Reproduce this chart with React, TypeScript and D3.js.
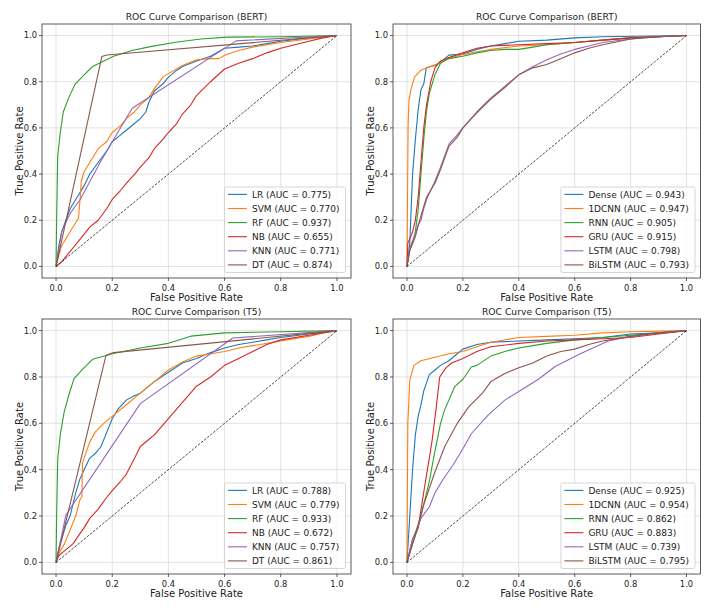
import * as d3 from 'd3';
import React, { useEffect, useRef } from 'react';

type Pt = [number, number];

const mlNames = ['LR', 'SVM', 'RF', 'NB', 'KNN', 'DT'];
const dlNames = ['Dense', '1DCNN', 'RNN', 'GRU', 'LSTM', 'BiLSTM'];

const bertMlAuc = [0.775, 0.770, 0.937, 0.655, 0.771, 0.874];
const bertDlAuc = [0.943, 0.947, 0.905, 0.915, 0.798, 0.793];
const t5MlAuc = [0.788, 0.779, 0.933, 0.672, 0.757, 0.861];
const t5DlAuc = [0.925, 0.954, 0.862, 0.883, 0.739, 0.795];

const tickVals = [0, 0.2, 0.4, 0.6, 0.8, 1.0];
const colors = ['#1f77b4', '#ff7f0e', '#2ca02c', '#d62728', '#9467bd', '#8c564b'];

// BERT, classic models
const bertLR: Pt[] = [[0, 0], [0.01, 0.09], [0.02, 0.15], [0.035, 0.2], [0.05, 0.25], [0.07, 0.29], [0.1, 0.35], [0.12, 0.4], [0.15, 0.45], [0.18, 0.5], [0.2, 0.54], [0.22, 0.56], [0.25, 0.59], [0.28, 0.62], [0.3, 0.64], [0.32, 0.67], [0.33, 0.71], [0.35, 0.76], [0.38, 0.79], [0.4, 0.82], [0.43, 0.85], [0.45, 0.866], [0.5, 0.89], [0.55, 0.91], [0.6, 0.945], [0.65, 0.95], [0.7, 0.955], [0.75, 0.965], [0.8, 0.975], [0.9, 0.99], [1, 1]];
const bertSVM: Pt[] = [[0, 0], [0.01, 0.05], [0.02, 0.09], [0.04, 0.13], [0.06, 0.17], [0.08, 0.21], [0.086, 0.3], [0.09, 0.37], [0.1, 0.41], [0.12, 0.45], [0.15, 0.51], [0.18, 0.54], [0.2, 0.58], [0.23, 0.61], [0.25, 0.64], [0.28, 0.67], [0.3, 0.7], [0.33, 0.73], [0.35, 0.77], [0.38, 0.82], [0.4, 0.835], [0.45, 0.87], [0.5, 0.895], [0.55, 0.9], [0.58, 0.9], [0.6, 0.915], [0.65, 0.935], [0.7, 0.95], [0.8, 0.97], [0.9, 0.985], [1, 1]];
const bertRF: Pt[] = [[0, 0], [0.002, 0.2], [0.006, 0.48], [0.015, 0.58], [0.026, 0.67], [0.045, 0.73], [0.068, 0.79], [0.1, 0.83], [0.13, 0.866], [0.17, 0.89], [0.205, 0.91], [0.27, 0.935], [0.336, 0.952], [0.42, 0.97], [0.515, 0.985], [0.611, 0.993], [0.8, 0.995], [1, 1]];
const bertNB: Pt[] = [[0, 0], [0.02, 0.02], [0.04, 0.05], [0.06, 0.08], [0.08, 0.11], [0.1, 0.14], [0.12, 0.17], [0.15, 0.2], [0.18, 0.25], [0.2, 0.29], [0.23, 0.33], [0.25, 0.36], [0.28, 0.4], [0.3, 0.43], [0.33, 0.47], [0.35, 0.51], [0.38, 0.55], [0.4, 0.58], [0.43, 0.62], [0.45, 0.66], [0.48, 0.7], [0.5, 0.74], [0.55, 0.8], [0.6, 0.855], [0.65, 0.88], [0.7, 0.9], [0.75, 0.925], [0.8, 0.945], [0.85, 0.96], [0.9, 0.975], [0.95, 0.99], [1, 1]];
const bertKNN: Pt[] = [[0, 0], [0.02, 0.15], [0.05, 0.23], [0.086, 0.29], [0.157, 0.45], [0.205, 0.55], [0.271, 0.685], [0.641, 0.977], [1, 1]];
const bertDT: Pt[] = [[0, 0], [0.163, 0.909], [0.181, 0.916], [1, 1]];

// BERT, neural models
const bertDense: Pt[] = [[0, 0], [0.005, 0.05], [0.01, 0.1], [0.015, 0.25], [0.02, 0.4], [0.03, 0.55], [0.04, 0.68], [0.05, 0.765], [0.06, 0.79], [0.069, 0.859], [0.08, 0.865], [0.1, 0.87], [0.12, 0.885], [0.15, 0.915], [0.2, 0.92], [0.25, 0.94], [0.3, 0.955], [0.35, 0.965], [0.4, 0.975], [0.5, 0.98], [0.6, 0.99], [0.7, 0.995], [1, 1]];
const bert1DCNN: Pt[] = [[0, 0], [0.002, 0.3], [0.004, 0.61], [0.007, 0.72], [0.015, 0.77], [0.027, 0.82], [0.05, 0.85], [0.1, 0.873], [0.146, 0.9], [0.19, 0.915], [0.25, 0.93], [0.3, 0.94], [0.4, 0.955], [0.5, 0.96], [0.6, 0.97], [0.7, 0.98], [0.8, 0.99], [1, 1]];
const bertRNN: Pt[] = [[0, 0], [0.01, 0.07], [0.02, 0.1], [0.03, 0.15], [0.04, 0.245], [0.05, 0.4], [0.06, 0.55], [0.069, 0.664], [0.08, 0.75], [0.1, 0.83], [0.12, 0.88], [0.15, 0.9], [0.2, 0.91], [0.25, 0.925], [0.3, 0.935], [0.35, 0.94], [0.4, 0.94], [0.45, 0.95], [0.5, 0.96], [0.6, 0.97], [0.7, 0.98], [0.8, 0.99], [1, 1]];
const bertGRU: Pt[] = [[0, 0], [0.003, 0.1], [0.02, 0.15], [0.03, 0.2], [0.04, 0.3], [0.05, 0.45], [0.06, 0.6], [0.07, 0.7], [0.085, 0.8], [0.1, 0.86], [0.12, 0.89], [0.15, 0.905], [0.2, 0.925], [0.25, 0.945], [0.3, 0.955], [0.4, 0.96], [0.5, 0.965], [0.6, 0.97], [0.7, 0.98], [0.8, 0.99], [1, 1]];
const bertLSTM: Pt[] = [[0, 0], [0.01, 0.08], [0.02, 0.11], [0.04, 0.18], [0.05, 0.2], [0.06, 0.25], [0.07, 0.29], [0.1, 0.37], [0.12, 0.43], [0.15, 0.53], [0.18, 0.57], [0.2, 0.6], [0.25, 0.67], [0.3, 0.73], [0.35, 0.78], [0.4, 0.83], [0.45, 0.865], [0.5, 0.895], [0.55, 0.92], [0.6, 0.94], [0.65, 0.955], [0.7, 0.97], [0.8, 0.985], [0.9, 0.995], [1, 1]];
const bertBiLSTM: Pt[] = [[0, 0], [0.01, 0.07], [0.03, 0.13], [0.05, 0.22], [0.07, 0.3], [0.1, 0.36], [0.12, 0.42], [0.15, 0.52], [0.18, 0.56], [0.2, 0.6], [0.25, 0.665], [0.3, 0.725], [0.35, 0.775], [0.4, 0.83], [0.45, 0.86], [0.5, 0.875], [0.55, 0.9], [0.6, 0.925], [0.65, 0.945], [0.7, 0.96], [0.8, 0.985], [0.9, 0.995], [1, 1]];

// T5, classic models
const t5LR: Pt[] = [[0, 0], [0.01, 0.06], [0.02, 0.1], [0.035, 0.16], [0.05, 0.2], [0.07, 0.3], [0.085, 0.36], [0.1, 0.4], [0.12, 0.45], [0.14, 0.47], [0.16, 0.5], [0.18, 0.56], [0.2, 0.62], [0.22, 0.66], [0.25, 0.7], [0.28, 0.72], [0.3, 0.73], [0.35, 0.78], [0.4, 0.82], [0.45, 0.86], [0.5, 0.88], [0.55, 0.905], [0.6, 0.925], [0.65, 0.94], [0.7, 0.95], [0.75, 0.96], [0.8, 0.97], [0.9, 0.985], [1, 1]];
const t5SVM: Pt[] = [[0, 0], [0.01, 0.04], [0.03, 0.08], [0.05, 0.14], [0.07, 0.2], [0.085, 0.27], [0.092, 0.283], [0.094, 0.427], [0.1, 0.45], [0.12, 0.52], [0.14, 0.563], [0.17, 0.6], [0.2, 0.63], [0.25, 0.68], [0.3, 0.73], [0.35, 0.78], [0.4, 0.83], [0.45, 0.865], [0.5, 0.89], [0.55, 0.9], [0.6, 0.91], [0.65, 0.925], [0.7, 0.935], [0.8, 0.955], [0.9, 0.975], [0.95, 0.99], [1, 1]];
const t5RF: Pt[] = [[0, 0], [0.002, 0.2], [0.006, 0.448], [0.015, 0.55], [0.029, 0.649], [0.045, 0.72], [0.064, 0.793], [0.1, 0.84], [0.13, 0.876], [0.2, 0.9], [0.3, 0.925], [0.4, 0.945], [0.48, 0.976], [0.6, 0.99], [0.8, 0.995], [1, 1]];
const t5NB: Pt[] = [[0, 0], [0.01, 0.03], [0.03, 0.05], [0.06, 0.08], [0.1, 0.15], [0.12, 0.19], [0.15, 0.23], [0.18, 0.28], [0.2, 0.31], [0.23, 0.35], [0.25, 0.38], [0.28, 0.45], [0.3, 0.5], [0.33, 0.53], [0.35, 0.55], [0.4, 0.62], [0.45, 0.69], [0.5, 0.76], [0.55, 0.8], [0.6, 0.85], [0.65, 0.88], [0.7, 0.91], [0.75, 0.94], [0.8, 0.96], [0.9, 0.98], [1, 1]];
const t5KNN: Pt[] = [[0, 0], [0.035, 0.204], [0.3, 0.685], [0.629, 0.968], [1, 1]];
const t5DT: Pt[] = [[0, 0], [0.178, 0.894], [0.205, 0.905], [1, 1]];

// T5, neural models
const t5Dense: Pt[] = [[0, 0], [0.005, 0.1], [0.01, 0.2], [0.02, 0.4], [0.03, 0.55], [0.04, 0.63], [0.05, 0.68], [0.06, 0.74], [0.08, 0.81], [0.1, 0.83], [0.12, 0.85], [0.15, 0.87], [0.18, 0.9], [0.2, 0.92], [0.25, 0.94], [0.3, 0.95], [0.4, 0.955], [0.5, 0.96], [0.6, 0.965], [0.7, 0.97], [0.8, 0.985], [0.9, 0.99], [1, 1]];
const t51DCNN: Pt[] = [[0, 0], [0.003, 0.6], [0.01, 0.786], [0.025, 0.85], [0.05, 0.87], [0.1, 0.885], [0.15, 0.9], [0.2, 0.91], [0.25, 0.93], [0.3, 0.95], [0.4, 0.97], [0.5, 0.975], [0.6, 0.98], [0.7, 0.99], [0.8, 0.995], [1, 1]];
const t5RNN: Pt[] = [[0, 0], [0.02, 0.08], [0.04, 0.15], [0.06, 0.25], [0.08, 0.35], [0.1, 0.48], [0.12, 0.6], [0.135, 0.66], [0.15, 0.7], [0.17, 0.757], [0.2, 0.79], [0.23, 0.843], [0.25, 0.85], [0.3, 0.89], [0.35, 0.91], [0.4, 0.925], [0.45, 0.935], [0.5, 0.945], [0.6, 0.96], [0.7, 0.97], [0.8, 0.98], [0.9, 0.99], [1, 1]];
const t5GRU: Pt[] = [[0, 0], [0.02, 0.1], [0.04, 0.15], [0.063, 0.326], [0.08, 0.45], [0.09, 0.527], [0.105, 0.671], [0.117, 0.8], [0.14, 0.84], [0.16, 0.86], [0.2, 0.88], [0.25, 0.91], [0.3, 0.93], [0.4, 0.945], [0.5, 0.955], [0.6, 0.96], [0.7, 0.965], [0.8, 0.97], [0.9, 0.985], [1, 1]];
const t5LSTM: Pt[] = [[0, 0], [0.02, 0.1], [0.05, 0.19], [0.08, 0.24], [0.1, 0.3], [0.13, 0.36], [0.17, 0.43], [0.2, 0.49], [0.23, 0.555], [0.29, 0.635], [0.35, 0.7], [0.41, 0.745], [0.47, 0.79], [0.53, 0.845], [0.62, 0.9], [0.72, 0.955], [0.8, 0.975], [0.9, 0.99], [1, 1]];
const t5BiLSTM: Pt[] = [[0, 0], [0.03, 0.12], [0.06, 0.25], [0.1, 0.39], [0.135, 0.5], [0.18, 0.6], [0.22, 0.67], [0.27, 0.73], [0.3, 0.78], [0.35, 0.815], [0.4, 0.84], [0.45, 0.86], [0.5, 0.89], [0.55, 0.91], [0.6, 0.92], [0.65, 0.94], [0.7, 0.955], [0.8, 0.975], [0.9, 0.99], [1, 1]];

const panels = [
    { title: 'ROC Curve Comparison (BERT)', names: mlNames, auc: bertMlAuc, curves: [bertLR, bertSVM, bertRF, bertNB, bertKNN, bertDT], box: [42, 351, 24, 278] },
    { title: 'ROC Curve Comparison (BERT)', names: dlNames, auc: bertDlAuc, curves: [bertDense, bert1DCNN, bertRNN, bertGRU, bertLSTM, bertBiLSTM], box: [393, 700.5, 24, 278] },
    { title: 'ROC Curve Comparison (T5)', names: mlNames, auc: t5MlAuc, curves: [t5LR, t5SVM, t5RF, t5NB, t5KNN, t5DT], box: [42, 351, 319, 574] },
    { title: 'ROC Curve Comparison (T5)', names: dlNames, auc: t5DlAuc, curves: [t5Dense, t51DCNN, t5RNN, t5GRU, t5LSTM, t5BiLSTM], box: [393, 700.5, 319, 574] },
];

const FONT = '"DejaVu Sans", sans-serif';

function drawPanel(svg: d3.Selection<SVGSVGElement, unknown, null, undefined>, p: typeof panels[number]) {
    const [l, r, t, b] = p.box;
    const x = d3.scaleLinear().domain([-0.05, 1.05]).range([l, r]);
    const y = d3.scaleLinear().domain([-0.05, 1.05]).range([b, t]);
    const g = svg.append('g');

    // grid
    g.selectAll('line.gx').data(tickVals).enter().append('line')
        .attr('x1', d => x(d)).attr('x2', d => x(d)).attr('y1', t).attr('y2', b)
        .attr('stroke', '#b0b0b0').attr('stroke-opacity', 0.45).attr('stroke-width', 0.8);
    g.selectAll('line.gy').data(tickVals).enter().append('line')
        .attr('y1', d => y(d)).attr('y2', d => y(d)).attr('x1', l).attr('x2', r)
        .attr('stroke', '#b0b0b0').attr('stroke-opacity', 0.45).attr('stroke-width', 0.8);

    const line = d3.line<Pt>().x(d => x(d[0])).y(d => y(d[1]));
    p.curves.forEach((c, i) => {
        g.append('path').attr('d', line(c)!).attr('fill', 'none')
            .attr('stroke', colors[i]).attr('stroke-width', 1.1).attr('stroke-linejoin', 'round');
    });
    // chance line
    g.append('path').attr('d', line([[0, 0], [1, 1]])!).attr('fill', 'none')
        .attr('stroke', '#000').attr('stroke-width', 0.7).attr('stroke-dasharray', '2.6 1.4');

    // frame
    g.append('rect').attr('x', l).attr('y', t).attr('width', r - l).attr('height', b - t)
        .attr('fill', 'none').attr('stroke', '#333').attr('stroke-width', 0.8);

    // ticks
    tickVals.forEach(v => {
        g.append('line').attr('x1', x(v)).attr('x2', x(v)).attr('y1', b).attr('y2', b + 3)
            .attr('stroke', '#333').attr('stroke-width', 0.8);
        g.append('text').attr('x', x(v)).attr('y', b + 12.5).attr('text-anchor', 'middle')
            .attr('font-size', 8.4).attr('fill', '#222').attr('font-family', FONT).text(v.toFixed(1));
        g.append('line').attr('y1', y(v)).attr('y2', y(v)).attr('x1', l - 3).attr('x2', l)
            .attr('stroke', '#333').attr('stroke-width', 0.8);
        g.append('text').attr('x', l - 5).attr('y', y(v)).attr('dy', '0.35em').attr('text-anchor', 'end')
            .attr('font-size', 8.4).attr('fill', '#222').attr('font-family', FONT).text(v.toFixed(1));
    });

    g.append('text').attr('x', (l + r) / 2).attr('y', t - 3.8).attr('text-anchor', 'middle')
        .attr('font-size', 9.2).attr('fill', '#222').attr('font-family', FONT).text(p.title);
    g.append('text').attr('x', (l + r) / 2).attr('y', b + 22.5).attr('text-anchor', 'middle')
        .attr('font-size', 10).attr('fill', '#222').attr('font-family', FONT).text('False Positive Rate');
    g.append('text').attr('transform', `translate(${l - 19},${(t + b) / 2}) rotate(-90)`)
        .attr('text-anchor', 'middle').attr('font-size', 10).attr('fill', '#222').attr('font-family', FONT)
        .text('True Positive Rate');

    // legend, lower right
    const rowH = 14.1;
    const lg = g.append('g');
    const frame = lg.append('rect');
    const labels = p.names.map((n, i) => `${n} (AUC = ${p.auc[i].toFixed(3)})`);
    const texts = labels.map(s => lg.append('text').attr('font-size', 9).attr('fill', '#222')
        .attr('font-family', FONT).text(s));
    const tw = d3.max(texts, tx => (tx.node() as SVGTextElement).getComputedTextLength()) || 0;
    const boxW = 3.5 + 19 + 5 + tw + 6;
    const boxH = 5 * rowH + 15;
    const bx = r - 5.5 - boxW;
    const by = b - 5.5 - boxH;
    frame.attr('x', bx).attr('y', by).attr('width', boxW).attr('height', boxH).attr('rx', 2)
        .attr('fill', '#fff').attr('fill-opacity', 0.8).attr('stroke', '#ccc').attr('stroke-width', 0.8);
    texts.forEach((tx, i) => {
        const cy = by + 7.4 + i * rowH;
        lg.append('line').attr('x1', bx + 3.5).attr('x2', bx + 22.5).attr('y1', cy).attr('y2', cy)
            .attr('stroke', colors[i]).attr('stroke-width', 1.1);
        tx.attr('x', bx + 27.5).attr('y', cy).attr('dy', '0.35em');
    });
}

export default function App() {
    const ref = useRef<SVGSVGElement>(null);
    useEffect(() => {
        const svg = d3.select(ref.current!);
        svg.selectAll('*').remove();
        panels.forEach(p => drawPanel(svg, p));
    }, []);
    return (
        <svg ref={ref} width={714} height={610}
            style={{ position: 'absolute', left: 0, top: 0, background: '#fff' }} />
    );
}
